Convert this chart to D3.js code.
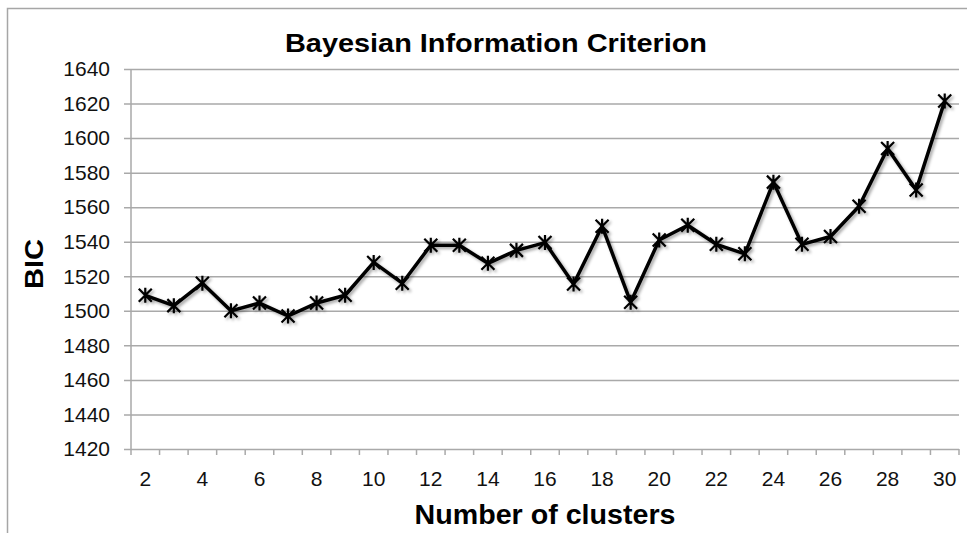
<!DOCTYPE html>
<html>
<head>
<meta charset="utf-8">
<script src="https://cdn.jsdelivr.net/npm/d3@7"></script>
<style>
  html, body { margin: 0; padding: 0; background: #fff; }
  svg { display: block; font-family: Arial, "Liberation Sans", Helvetica, sans-serif; }
</style>
</head>
<body>
<svg id="viz" width="967" height="533"></svg>
<script>
// values
const clusters = [2, 3, 4, 5, 6, 7, 8, 9, 10, 11, 12, 13, 14, 15, 16, 17, 18, 19, 20, 21, 22, 23, 24, 25, 26, 27, 28, 29, 30];
const bic = [1509, 1503, 1516, 1500, 1504.5, 1497, 1504.5, 1509, 1528, 1516, 1538, 1538, 1527.5, 1535, 1539.5, 1515.5,
             1549, 1505, 1541, 1549.5, 1538.5, 1533, 1574.5, 1538.5, 1543, 1560.5, 1594, 1570, 1621.5];
const yTicks = [1420, 1440, 1460, 1480, 1500, 1520, 1540, 1560, 1580, 1600, 1620, 1640];
const xLabels = [2, 4, 6, 8, 10, 12, 14, 16, 18, 20, 22, 24, 26, 28, 30];

const svg = d3.select("#viz");
const plot = {left: 131, right: 959, top: 69, bottom: 449};

const x = d3.scaleBand()
    .domain(clusters)
    .range([plot.left, plot.right]);

const y = d3.scaleLinear()
    .domain([1420, 1640])
    .range([plot.bottom, plot.top]);

// drop shadow for the line + markers
const defs = svg.append("defs");
const f = defs.append("filter").attr("id", "shadow")
    .attr("x", "-10%").attr("y", "-10%").attr("width", "120%").attr("height", "120%");
f.append("feDropShadow")
    .attr("dx", 2).attr("dy", 2)
    .attr("stdDeviation", 1.6)
    .attr("flood-color", "#000")
    .attr("flood-opacity", 0.35);

// outer frame (top + left only)
svg.append("path")
    .attr("d", "M7.5,533 V8.5 H967")
    .attr("fill", "none")
    .attr("stroke", "#a6a6a6")
    .attr("stroke-width", 1.5);

// gridlines + y ticks
const yAxis = d3.axisLeft(y)
    .tickValues(yTicks)
    .tickSize(7)
    .tickPadding(14)
    .tickFormat(d3.format("d"));

const gy = svg.append("g")
    .attr("transform", `translate(${plot.left},0)`)
    .call(yAxis);
gy.select(".domain").remove();
gy.selectAll(".tick line")
    .attr("x1", plot.right - plot.left)
    .attr("x2", -7)
    .attr("stroke", "#a9a9a9")
    .attr("stroke-width", 1.5);
gy.selectAll(".tick text")
    .attr("fill", "#111")
    .style("font-size", "21px");

// left axis line
svg.append("line")
    .attr("x1", plot.left).attr("x2", plot.left)
    .attr("y1", plot.top).attr("y2", plot.bottom)
    .attr("stroke", "#a9a9a9")
    .attr("stroke-width", 1.5);

// x axis ticks at category boundaries
const edges = clusters.map(d => x(d)).concat([plot.right]);
svg.append("g").selectAll("line")
    .data(edges)
    .enter().append("line")
    .attr("x1", d => d).attr("x2", d => d)
    .attr("y1", plot.bottom).attr("y2", plot.bottom + 6)
    .attr("stroke", "#a9a9a9")
    .attr("stroke-width", 1.5);

svg.append("g").selectAll("text")
    .data(xLabels)
    .enter().append("text")
    .attr("x", d => x(d) + x.bandwidth() / 2)
    .attr("y", 486)
    .attr("text-anchor", "middle")
    .attr("fill", "#111")
    .style("font-size", "21px")
    .text(d => d);

// the series
const pts = clusters.map((c, i) => ({c: c, v: bic[i]}));
const series = svg.append("g").attr("filter", "url(#shadow)");

series.append("path")
    .datum(pts)
    .attr("fill", "none")
    .attr("stroke", "#000")
    .attr("stroke-width", 3.5)
    .attr("stroke-linejoin", "round")
    .attr("d", d3.line()
        .x(d => x(d.c) + x.bandwidth() / 2)
        .y(d => y(d.v)));

const s = 6.5; // marker half size
series.selectAll(".mark")
    .data(pts)
    .enter().append("path")
    .attr("class", "mark")
    .attr("transform", d => `translate(${x(d.c) + x.bandwidth() / 2},${y(d.v)})`)
    .attr("d", `M${-s},${-s}L${s},${s}M${-s},${s}L${s},${-s}M0,${-s - 1}V${s + 1}`)
    .attr("stroke", "#000")
    .attr("stroke-width", 2.2)
    .attr("fill", "none");

// titles
svg.append("text")
    .attr("x", 496)
    .attr("y", 52)
    .attr("text-anchor", "middle")
    .attr("font-weight", "bold")
    .style("font-size", "25px")
    .attr("textLength", 422)
    .attr("lengthAdjust", "spacingAndGlyphs")
    .text("Bayesian Information Criterion");

svg.append("text")
    .attr("x", 545)
    .attr("y", 524)
    .attr("text-anchor", "middle")
    .attr("font-weight", "bold")
    .style("font-size", "28px")
    .attr("textLength", 261)
    .attr("lengthAdjust", "spacingAndGlyphs")
    .text("Number of clusters");

svg.append("text")
    .attr("transform", "translate(43,264) rotate(-90)")
    .attr("text-anchor", "middle")
    .attr("font-weight", "bold")
    .style("font-size", "26px")
    .attr("textLength", 50)
    .attr("lengthAdjust", "spacingAndGlyphs")
    .text("BIC");
</script>
</body>
</html>
